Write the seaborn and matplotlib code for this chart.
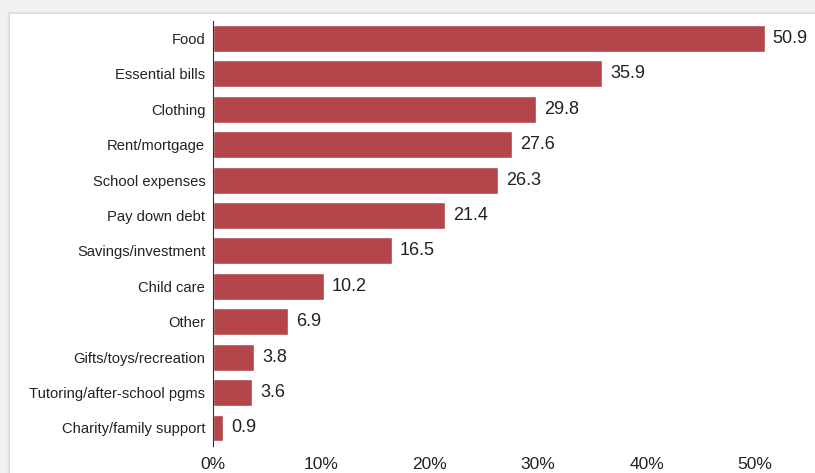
import matplotlib
matplotlib.use("Agg")
import matplotlib.pyplot as plt
import seaborn as sns
import pandas as pd
from matplotlib.patches import Rectangle

categories = ["Food", "Essential bills", "Clothing", "Rent/mortgage", "School expenses",
              "Pay down debt", "Savings/investment", "Child care", "Other",
              "Gifts/toys/recreation", "Tutoring/after-school pgms", "Charity/family support"]
values = [50.9, 35.9, 29.8, 27.6, 26.3, 21.4, 16.5, 10.2, 6.9, 3.8, 3.6, 0.9]
xticks = [0, 10, 20, 30, 40, 50]
xtick_labels = ["0%", "10%", "20%", "30%", "40%", "50%"]

df = pd.DataFrame({"category": categories, "value": values})

sns.set_theme(style="white")
plt.rcParams["font.family"] = ["Liberation Sans", "DejaVu Sans"]

W, H = 815, 473
fig = plt.figure(figsize=(W / 100, H / 100), dpi=100)
fig.patch.set_facecolor("#f1f1f1")

# card background with a soft shadow
for i, a in enumerate([0.02, 0.03, 0.04]):
    off = (3 - i)
    fig.patches.append(Rectangle(((10 - off) / W, 0), 1.2, (H - 14 + off) / H,
                                 transform=fig.transFigure, facecolor="#000000",
                                 alpha=a, edgecolor="none", zorder=-10))
fig.patches.append(Rectangle((10 / W, 0), 1.2, (H - 14) / H, transform=fig.transFigure,
                             facecolor="white", edgecolor="none", zorder=-5))

ax_left = 213 / W
ax_bottom = (H - 445.7) / H
ax_height = 425 / H
ax = fig.add_axes([ax_left, ax_bottom, 1 - ax_left, ax_height])
ax.set_facecolor("none")
ax.set_zorder(1)

px_per_unit = (755 - 213) / 50.0
xmax = (W - 213) / px_per_unit

sns.barplot(data=df, x="value", y="category", color="#b4454a", saturation=1,
            width=0.76, ax=ax, orient="h")

for i, v in enumerate(values):
    ax.text(v + 8 / px_per_unit, i, f"{v:.1f}", va="center", ha="left",
            fontsize=13, color="#222222", clip_on=False)

ax.set_xlim(0, xmax)
ax.set_ylim(11.5, -0.5)
ax.set_xticks(xticks)
ax.set_xticklabels(xtick_labels, fontsize=12.5, color="#222222")
ax.tick_params(axis="x", length=0, pad=8)
ax.tick_params(axis="y", length=0, pad=5.5, labelsize=10.6, labelcolor="#222222")
ax.set_xlabel("")
ax.set_ylabel("")
for s in ["top", "right", "bottom"]:
    ax.spines[s].set_visible(False)
ax.spines["left"].set_color("#333333")
ax.spines["left"].set_linewidth(0.8)

fig.savefig("out.png", dpi=100, facecolor=fig.get_facecolor())
